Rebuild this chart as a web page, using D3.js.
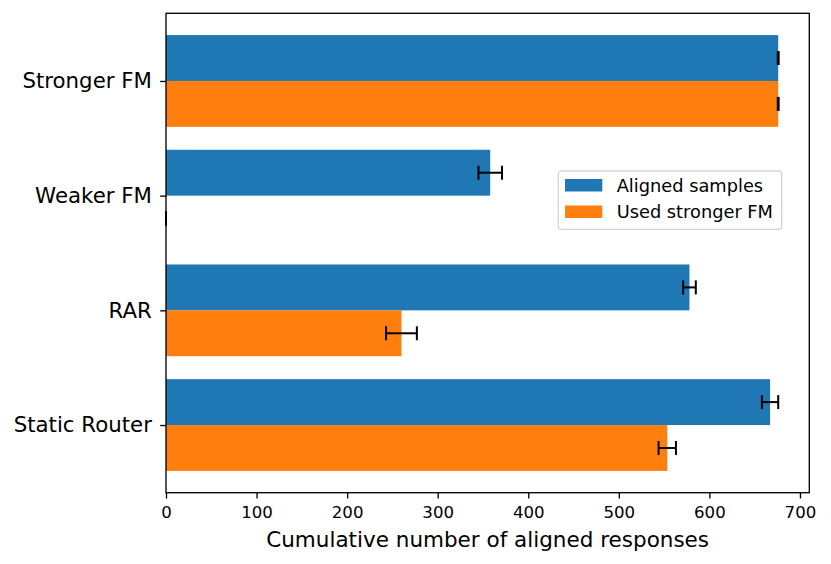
<!DOCTYPE html>
<html>
<head>
<meta charset="utf-8">
<script src="https://cdn.jsdelivr.net/npm/d3@7"></script>
<style>
body{margin:0;background:#fff;}
svg{font-family:"DejaVu Sans",sans-serif;}
</style>
</head>
<body>
<div id="chart"></div>
<script>
// bottom to top, like matplotlib barh
var categories=["Static Router","RAR","Weaker FM","Stronger FM"];
var aligned=[667,578,358,676],
	alignedErr=[9,7,13,0.5];
var usedStronger=[553.5,260,0,676],
	usedStrongerErr=[9.6,17,0,0.5];
var seriesNames=["Aligned samples","Used stronger FM"];
var xTicks=[0,100,200,300,400,500,600,700];

var WIDTH=831,HEIGHT=564;
var plotLeft=166,plotRight=809.3,plotTop=13.3,plotBottom=492.7;
var blue="#1f77b4",orange="#ff7f0e";

var svg=d3.select("#chart").append("svg")
	.attr("width",WIDTH)
	.attr("height",HEIGHT);

var xmax=d3.max(aligned.map(function(d,i){return d+alignedErr[i];})
	.concat(usedStronger.map(function(d,i){return d+usedStrongerErr[i];})))*1.05;

var xscale=d3.scaleLinear().domain([0,xmax]).range([plotLeft,plotRight]);

var lo=-0.4,hi=categories.length-1+0.4,pad=(hi-lo)*0.05;
var yscale=d3.scaleLinear().domain([lo-pad,hi+pad]).range([plotBottom,plotTop]);

var barH=0.4;

var series=[
	{name:seriesNames[0],values:aligned,err:alignedErr,color:blue,off:0.2},
	{name:seriesNames[1],values:usedStronger,err:usedStrongerErr,color:orange,off:-0.2}
];

var bars=svg.append("g");
series.forEach(function(s){
	bars.selectAll(null)
		.data(s.values)
		.enter()
			.append("rect")
				.attr("x",xscale(0))
				.attr("y",function(d,i){return yscale(i+s.off+barH/2);})
				.attr("width",function(d){return xscale(d)-xscale(0);})
				.attr("height",yscale(0)-yscale(barH))
				.attr("fill",s.color);
});

// error bars
var errs=svg.append("g").attr("stroke","#000").attr("stroke-width",2);
var cap=7;
series.forEach(function(s){
	s.values.forEach(function(d,i){
		var y=yscale(i+s.off),
			x1=xscale(Math.max(0,d-s.err[i])),
			x2=xscale(d+s.err[i]);
		errs.append("line").attr("x1",x1).attr("x2",x2).attr("y1",y).attr("y2",y);
		errs.append("line").attr("x1",x1).attr("x2",x1).attr("y1",y-cap).attr("y2",y+cap);
		errs.append("line").attr("x1",x2).attr("x2",x2).attr("y1",y-cap).attr("y2",y+cap);
	});
});

// frame
svg.append("rect")
	.attr("x",plotLeft).attr("y",plotTop)
	.attr("width",plotRight-plotLeft).attr("height",plotBottom-plotTop)
	.attr("fill","none").attr("stroke","#000").attr("stroke-width",1.33);

// x axis
var xaxis=svg.append("g")
	.attr("transform","translate(0,"+plotBottom+")")
	.call(d3.axisBottom(xscale).tickValues(xTicks).tickSize(5.8).tickPadding(8).tickFormat(d3.format("d")));
xaxis.select(".domain").remove();
xaxis.selectAll("line").attr("stroke","#000").attr("stroke-width",1.33);
xaxis.selectAll("text").attr("fill","#000").style("font-size","16.6px").style("font-family","DejaVu Sans");

// y axis
var yaxis=svg.append("g")
	.attr("transform","translate("+plotLeft+",0)")
	.call(d3.axisLeft(yscale).tickValues(d3.range(categories.length)).tickSize(5.8).tickPadding(8.3)
		.tickFormat(function(d){return categories[d];}));
yaxis.select(".domain").remove();
yaxis.selectAll("line").attr("stroke","#000").attr("stroke-width",1.33);
yaxis.selectAll("text").attr("fill","#000").style("font-size","21.3px").style("font-family","DejaVu Sans");

svg.append("text")
	.attr("x",(plotLeft+plotRight)/2)
	.attr("y",546.7)
	.attr("text-anchor","middle")
	.style("font-size","21.5px")
	.text("Cumulative number of aligned responses");

// legend
var lg=svg.append("g").attr("transform","translate(558.3,171)");
lg.append("rect")
	.attr("width",223.4).attr("height",58.3)
	.attr("rx",3).attr("ry",3)
	.attr("fill","#fff").attr("fill-opacity",0.8)
	.attr("stroke","#d5d5d5").attr("stroke-width",1.3);
series.forEach(function(s,i){
	lg.append("rect")
		.attr("x",6.7).attr("y",8+i*26.5)
		.attr("width",37.3).attr("height",12.5)
		.attr("fill",s.color);
	lg.append("text")
		.attr("x",58.4).attr("y",20.7+i*26)
		.style("font-size","17.8px")
		.text(s.name);
});
</script>
</body>
</html>
